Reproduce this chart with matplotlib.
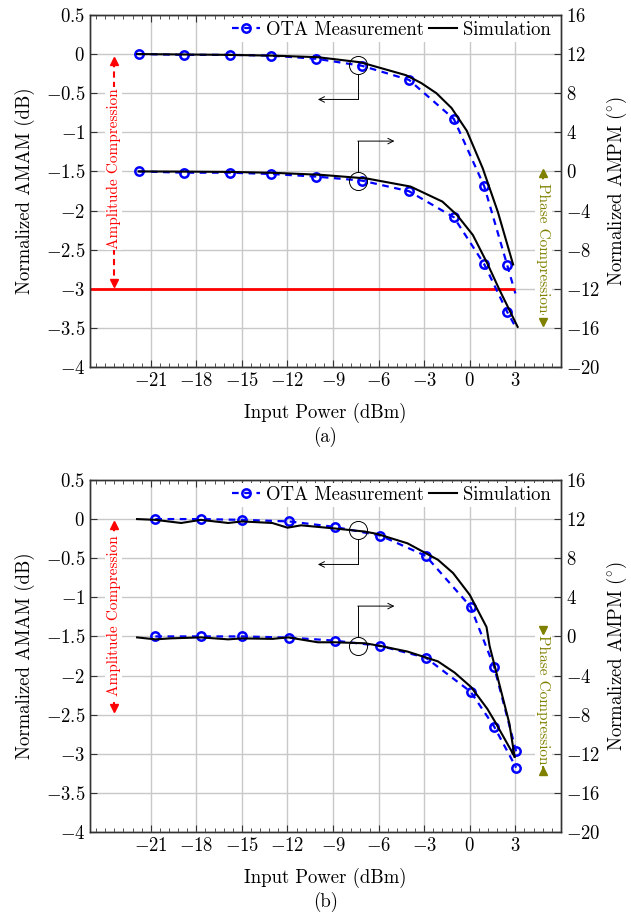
import numpy as np
import matplotlib
matplotlib.use("Agg")
import matplotlib.pyplot as plt
from matplotlib.ticker import MultipleLocator, FuncFormatter

plt.rcParams['font.family'] = 'serif'
plt.rcParams['font.serif'] = ['cmr10']
plt.rcParams['mathtext.fontset'] = 'cm'
plt.rcParams['axes.formatter.use_mathtext'] = True
plt.rcParams['axes.unicode_minus'] = False

# ---- panel (a) ----
x_meas_a = [-21.8, -18.8, -15.8, -13.1, -10.1, -7.1, -4.0, -1.05, 0.95, 2.45, 3.0]
amam_meas_a = [0, -0.01, -0.01, -0.02, -0.06, -0.15, -0.33, -0.83, -1.69, -2.69, -3.06]
ampm_meas_a = [0, -0.13, -0.13, -0.26, -0.53, -0.94, -2.03, -4.69, -9.49, -14.34, -15.87]

x_sim_amam_a = [-21.9, -19, -16, -13, -10, -7.2, -4.2, -3.2, -2.2, -1.2, -0.2, 0.85, 1.85, 2.85]
amam_sim_a = [0, -0.005, -0.01, -0.02, -0.04, -0.105, -0.27, -0.37, -0.50, -0.69, -0.98, -1.46, -2.02, -2.69]
x_sim_ampm_a = [-21.8, -18.8, -15.8, -12.8, -9.8, -6.8, -3.9, -1.8, -0.85, 0.2, 1.15, 1.95, 3.15]
ampm_sim_a = [0, -0.02, -0.05, -0.15, -0.35, -0.72, -1.55, -3.09, -4.45, -6.5, -9.4, -12.1, -15.9]

# 3 dB compression reference level in (a)
comp_level_a = -3
comp_span_a = (-25, 3)

# ---- panel (b) ----
x_meas_b = [-20.7, -17.7, -15.0, -11.9, -8.9, -5.9, -2.9, 0.05, 1.6, 3.05]
amam_meas_b = [0, 0, -0.01, -0.03, -0.10, -0.21, -0.47, -1.12, -1.89, -2.97]
ampm_meas_b = [0, 0, 0, -0.12, -0.43, -0.97, -2.17, -5.65, -9.22, -13.42]

x_sim_amam_b = [-21.9, -20.7, -19.0, -17.7, -15.9, -15.0, -13.0, -12.0, -11.1, -8.9, -6.9, -6.1,
                -4.1, -2.1, -1.1, 0.0, 1.1, 1.3, 2.6, 2.95]
amam_sim_b = [0, -0.01, -0.05, -0.01, -0.05, -0.03, -0.05, -0.11, -0.08, -0.12, -0.16, -0.19,
              -0.31, -0.52, -0.69, -0.97, -1.38, -1.62, -2.61, -3.04]
x_sim_ampm_b = [-21.9, -20.7, -19.7, -17.7, -15.9, -15.0, -13.0, -11.95, -10.0, -8.9, -6.9, -5.9,
                -4.1, -2.1, -1.0, 0.1, 1.15, 1.65, 2.95]
ampm_sim_b = [-0.1, -0.3, -0.2, -0.1, -0.3, -0.2, -0.25, -0.1, -0.6, -0.6, -0.7, -0.97,
              -1.55, -2.55, -3.7, -5.2, -7.4, -8.7, -12.3]

x_ticks = [-21, -18, -15, -12, -9, -6, -3, 0, 3]
amam_ticks = [0.5, 0, -0.5, -1, -1.5, -2, -2.5, -3, -3.5, -4]
ampm_ticks = [16, 12, 8, 4, 0, -4, -8, -12, -16, -20]

FS = 13.5
OLIVE = '#808000'


def fmt(v, pos):
    return r'$%g$' % v


def panel(ax, xm, amam_m, ampm_m, xsa, amam_s, xsp, ampm_s, last_mark, label, amp_arrow, phase_arrow,
          inward):
    ax2 = ax.twinx()
    ax.set_xlim(-25, 6)
    ax.set_ylim(-4, 0.5)
    ax2.set_ylim(-20, 16)
    ax.set_xticks(x_ticks)
    ax.xaxis.set_minor_locator(MultipleLocator(0.6))
    ax.set_yticks(amam_ticks)
    ax2.set_yticks(ampm_ticks)
    ax.xaxis.set_major_formatter(FuncFormatter(fmt))
    ax.yaxis.set_major_formatter(FuncFormatter(fmt))
    ax2.yaxis.set_major_formatter(FuncFormatter(fmt))
    ax.grid(True, color='#c8c8c8', lw=1.0)
    ax.tick_params(which='both', direction='in', top=True, right=False, labelsize=FS, colors='#333333',
                   labelcolor='black')
    ax.tick_params(which='major', length=5)
    ax.tick_params(which='minor', length=3)
    ax2.tick_params(direction='in', length=5, labelsize=FS, colors='#333333', labelcolor='black')
    for a in (ax, ax2):
        for sp in a.spines.values():
            sp.set_color('#333333')
            sp.set_linewidth(1.0)

    mev = slice(0, -1) if not last_mark else None
    l1, = ax.plot(xm, amam_m, color='blue', ls=(0, (3, 2.5)), lw=1.6, marker='o', ms=6, mfc='none',
                  mew=1.8, markevery=mev, label='OTA Measurement')
    ax2.plot(xm, ampm_m, color='blue', ls=(0, (3, 2.5)), lw=1.6, marker='o', ms=6, mfc='none',
             mew=1.8, markevery=mev)
    l2, = ax.plot(xsa, amam_s, color='black', lw=1.5, label='Simulation')
    ax2.plot(xsp, ampm_s, color='black', lw=1.5)

    # circles and arrows
    cx = -7.37
    ax.plot(cx, -0.145, marker='o', ms=13, mfc='none', mec='black', mew=0.7)
    ax.plot([cx, cx], [-0.26, -0.58], color='black', lw=0.7)
    ax.annotate('', xy=(-10.0, -0.58), xytext=(cx, -0.58),
                arrowprops=dict(arrowstyle='->', lw=0.7, color='black', shrinkA=0, shrinkB=0))
    ax2.plot(cx, -1.0, marker='o', ms=13, mfc='none', mec='black', mew=0.7)
    ax2.plot([cx, cx], [-0.08, 3.1], color='black', lw=0.7)
    ax2.annotate('', xy=(-4.96, 3.1), xytext=(cx, 3.1),
                 arrowprops=dict(arrowstyle='->', lw=0.7, color='black', shrinkA=0, shrinkB=0))

    # amplitude compression
    xa = -23.45
    top, bot, tcen = amp_arrow
    ax.plot([xa, xa], [top, bot], color='red', ls=(0, (3, 2)), lw=1.5, zorder=2)
    ax.plot(xa, top, marker='^', ms=6, color='red', ls='none', zorder=6)
    ax.plot(xa, bot, marker='v', ms=6, color='red', ls='none', zorder=6)
    ax.text(xa, tcen, 'Amplitude Compression', rotation=90, color='red', fontsize=11, ha='center',
            va='center', zorder=4, bbox=dict(facecolor='white', edgecolor='none', pad=1))

    # phase compression
    xp = 4.85
    ptop, pbot, pcen = phase_arrow
    ax2.plot([xp, xp], [ptop, pbot], color=OLIVE, ls=(0, (3, 2)), lw=1.5, zorder=2)
    ax2.plot(xp, ptop, marker='v' if inward else '^', ms=6, color=OLIVE, ls='none', zorder=6)
    ax2.plot(xp, pbot, marker='^' if inward else 'v', ms=6, color=OLIVE, ls='none', zorder=6)
    ax2.text(xp, pcen, 'Phase Compression', rotation=270, color=OLIVE, fontsize=11, ha='center',
             va='center', zorder=4, bbox=dict(facecolor='white', edgecolor='none', pad=1))

    ax.set_xlabel('Input Power (dBm)', fontsize=FS, labelpad=9)
    ax.set_ylabel('Normalized AMAM (dB)', fontsize=FS, labelpad=8)
    ax2.set_ylabel(r'Normalized AMPM ($^{\circ}$)', fontsize=FS, labelpad=3)
    ax.text(0.5, -0.199, label, transform=ax.transAxes, ha='center', va='center', fontsize=FS)

    ax2.legend(handles=[l1, l2], loc='upper right', bbox_to_anchor=(1.0, 1.012), ncol=2, fontsize=FS,
               frameon=True, fancybox=False, edgecolor='none', facecolor='white', framealpha=1,
               handlelength=1.5, handletextpad=0.3, columnspacing=0.3, borderpad=0.15,
               borderaxespad=0.4)
    return ax2


fig = plt.figure(figsize=(6.31, 9.23), dpi=100)
ax_a = fig.add_axes([0.1426, 0.6024, 0.7464, 0.3814])
ax_b = fig.add_axes([0.1426, 0.0986, 0.7464, 0.3814])

panel(ax_a, x_meas_a, amam_meas_a, ampm_meas_a, x_sim_amam_a, amam_sim_a, x_sim_ampm_a, ampm_sim_a,
      False, '(a)', (-0.09, -2.93, -1.46), (-0.16, -15.4, -7.8), False)
ax_a.hlines(comp_level_a, comp_span_a[0], comp_span_a[1], color='red', lw=2.0, zorder=2.5)

panel(ax_b, x_meas_b, amam_meas_b, ampm_meas_b, x_sim_amam_b, amam_sim_b, x_sim_ampm_b, ampm_sim_b,
      True, '(b)', (-0.075, -2.42, -1.24), (0.66, -13.75, -6.5), True)

fig.savefig('out.png', dpi=100)
